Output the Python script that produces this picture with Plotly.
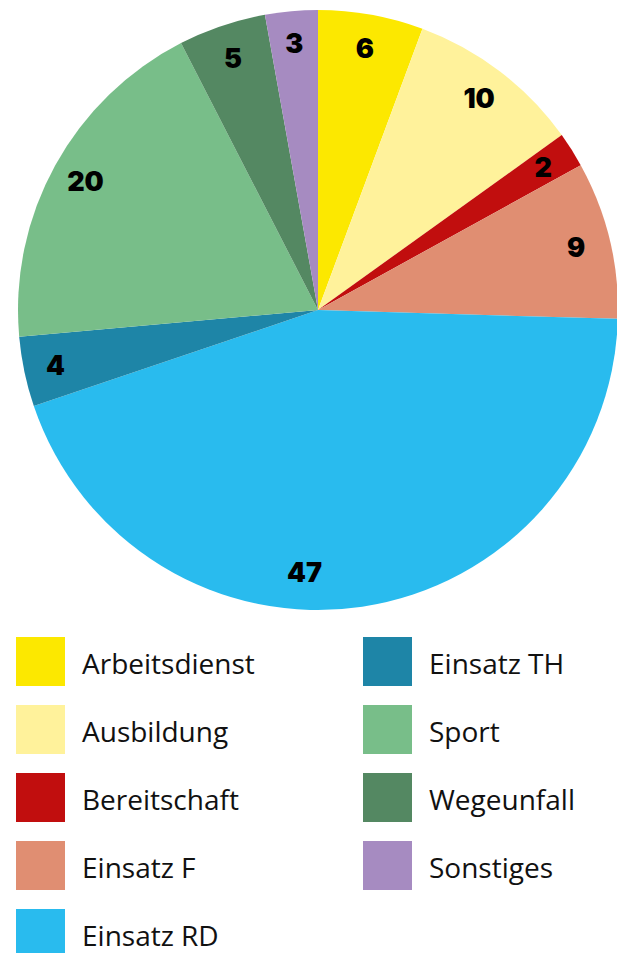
import plotly.graph_objects as go

# ---- data ----
categories = ["Arbeitsdienst", "Ausbildung", "Bereitschaft", "Einsatz F", "Einsatz RD",
              "Einsatz TH", "Sport", "Wegeunfall", "Sonstiges"]
values = [6, 10, 2, 9, 47, 4, 20, 5, 3]
colors = ["#FCE800", "#FFF29B", "#C10E0E", "#E08E72", "#29BBEE",
          "#1E85A7", "#78BE89", "#548862", "#A68BC1"]

W, H = 625, 953
OFF = 8  # page body margin offset
CX, CY = 318 - OFF, 310 - OFF   # pie centre in figure px


def domain(radius):
    return dict(x=[(CX - radius) / W, (CX + radius) / W],
                y=[1 - (CY + radius) / H, 1 - (CY - radius) / H])


# label rings: (outer radius px, hole fraction, slice indices whose label it carries)
rings = [(300, 0.77, {0, 1, 3, 4, 5, 6, 7}),
         (282, 0.75, {2}),
         (291, 0.75, {8})]

label_font = dict(family="Inter", size=27, color="black", weight=900)
common = dict(labels=categories, values=values, sort=False, direction="clockwise",
              rotation=0, showlegend=False)

fig = go.Figure()
# coloured slices
fig.add_trace(go.Pie(
    **common,
    marker=dict(colors=colors, line=dict(width=0)),
    textinfo="none", hoverinfo="label+value",
    domain=domain(300),
))
# transparent rings carrying the value labels near the rim
for radius, hole, idx in rings:
    tpl = []
    for i in range(len(values)):
        t = "%{value}"
        if i == 4:  # large slice label nudged towards the bottom centre
            t = "%{value}" + "\u00a0" * 5
        tpl.append(t if i in idx else "")
    fig.add_trace(go.Pie(
        **common, hole=hole,
        marker=dict(colors=["rgba(0,0,0,0)"] * len(values), line=dict(width=0)),
        texttemplate=tpl, textposition="inside", insidetextorientation="horizontal",
        textfont=label_font, hoverinfo="skip",
        domain=domain(radius),
    ))

# ---- custom two-column legend ----
shapes, annotations = [], []
col_x = [16 - OFF, 363 - OFF]      # square left edges (px)
text_x = [80 - OFF, 427 - OFF]     # label left edges (px)
row_top = 637 - OFF
row_step = 68
sq = 49
per_col = 5
for i, (name, col) in enumerate(zip(categories, colors)):
    c = 0 if i < per_col else 1
    r = i if i < per_col else i - per_col
    y0 = row_top + r * row_step
    shapes.append(dict(type="rect", xref="paper", yref="paper",
                       x0=col_x[c] / W, x1=(col_x[c] + sq) / W,
                       y0=1 - (y0 + sq) / H, y1=1 - y0 / H,
                       fillcolor=col, line=dict(width=0), layer="above"))
    annotations.append(dict(x=text_x[c] / W, y=1 - (y0 + sq / 2 + 1) / H,
                            xref="paper", yref="paper", xanchor="left", yanchor="middle",
                            text=name, showarrow=False,
                            font=dict(family="Open Sans", size=28, color="#111111")))

fig.update_layout(
    width=W, height=H,
    margin=dict(l=0, r=0, t=0, b=0),
    paper_bgcolor="white", plot_bgcolor="white",
    shapes=shapes, annotations=annotations,
    uniformtext=dict(minsize=27, mode="show"),
)

fig.write_html("out.html")
